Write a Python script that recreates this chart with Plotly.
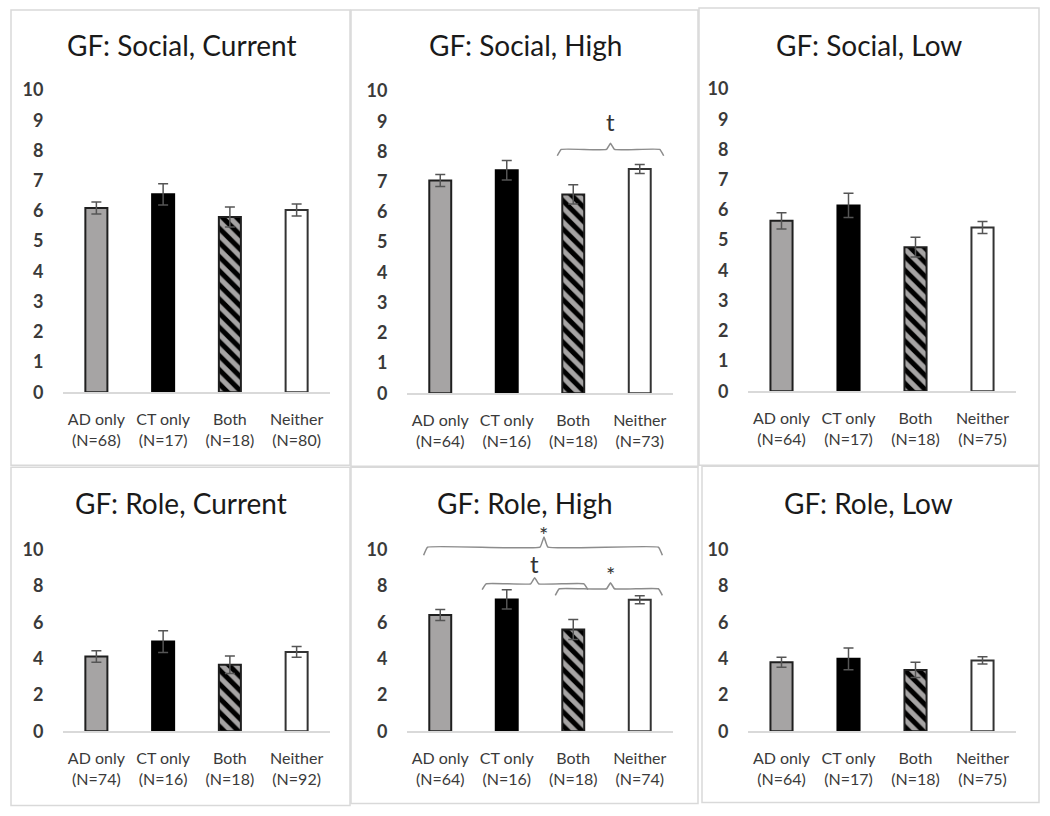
import plotly.graph_objects as go

# ---------------- data ----------------
categories = ["AD only", "CT only", "Both", "Neither"]
panel_titles = ["GF: Social, Current", "GF: Social, High", "GF: Social, Low",
                "GF: Role, Current", "GF: Role, High", "GF: Role, Low"]

social_current_n = [68, 17, 18, 80]
social_high_n = [64, 16, 18, 73]
social_low_n = [64, 17, 18, 75]
role_current_n = [74, 16, 18, 92]
role_high_n = [64, 16, 18, 74]
role_low_n = [64, 17, 18, 75]

social_current_mean = [6.10, 6.55, 5.80, 6.03]
social_current_se = [0.20, 0.35, 0.33, 0.20]
social_high_mean = [7.04, 7.38, 6.58, 7.42]
social_high_se = [0.20, 0.32, 0.32, 0.15]
social_low_mean = [5.64, 6.15, 4.77, 5.42]
social_low_se = [0.27, 0.40, 0.33, 0.20]
role_current_mean = [4.12, 4.94, 3.66, 4.37]
role_current_se = [0.32, 0.60, 0.48, 0.30]
role_high_mean = [6.40, 7.26, 5.60, 7.24]
role_high_se = [0.30, 0.53, 0.55, 0.22]
role_low_mean = [3.80, 3.99, 3.38, 3.90]
role_low_se = [0.28, 0.60, 0.42, 0.20]

y_ticks_social = [0, 1, 2, 3, 4, 5, 6, 7, 8, 9, 10]
y_ticks_role = [0, 2, 4, 6, 8, 10]

# significance brackets: panel index, x start, x end, x tip, line level, end level, tip level, label, label level
bracket_panel = [1, 4, 4, 4]
bracket_x0 = [1.76, -0.25, 0.63, 1.73]
bracket_x1 = [3.36, 3.34, 2.22, 3.34]
bracket_xtip = [2.56, 1.56, 1.42, 2.56]
bracket_level = [8.07, 10.14, 8.12, 7.85]
bracket_end = [7.86, 9.69, 7.80, 7.48]
bracket_tip = [8.27, 10.70, 8.46, 8.18]
bracket_label = ["t", "*", "t", "*"]
bracket_label_y = [8.98, 11.25, 9.24, 9.04]

means = [social_current_mean, social_high_mean, social_low_mean,
         role_current_mean, role_high_mean, role_low_mean]
ses = [social_current_se, social_high_se, social_low_se,
       role_current_se, role_high_se, role_low_se]
ns = [social_current_n, social_high_n, social_low_n,
      role_current_n, role_high_n, role_low_n]
yticks = [y_ticks_social] * 3 + [y_ticks_role] * 3

# ---------------- layout geometry (pixels of the 1050x816 page) ----------------
W, H = 1050, 816
VSCALE = 0.987               # observed vertical squeeze of the photographed page
YMAX = 12.0
# plot areas: x0, x1, y pixel of value 0, y pixel of value 10
plot_px = [
    (63, 330, 392, 90),
    (407, 673, 393, 91),
    (748, 1016, 391, 89),
    (63, 330, 730.7, 549.3),
    (407, 673, 730.7, 549.3),
    (748, 1016, 730.7, 549.3),
]
box_px = [
    (11, 10, 350, 465),
    (351, 10, 698, 466),
    (699, 8, 1039, 465),
    (11, 467, 350, 805),
    (351, 467, 698, 803),
    (702, 466, 1039, 802),
]
title_px = [(182, 45), (525, 45), (869, 45), (181, 503), (525, 503), (868, 503)]


def px_x(v):
    return v / W


def px_y(v):
    return 1 - (v / VSCALE) / H


bar_fill = ["#a6a4a4", "#000000", "#a6a4a4", "#ffffff"]
bar_line = ["#1f1f1f", "#000000", "#1f1f1f", "#333333"]

FONT = "Lato"
fig = go.Figure()

for i in range(6):
    sfx = "" if i == 0 else str(i + 1)
    xa, ya = "x" + sfx, "y" + sfx
    ticktext = [f"{c}<br>({'N=' + str(n)})" for c, n in zip(categories, ns[i])]
    for j in range(4):
        marker = dict(color=bar_fill[j], line=dict(color=bar_line[j], width=2))
        if j == 2:
            marker["pattern"] = dict(shape="\\", bgcolor="#a6a4a4", fgcolor="#000000",
                                     size=10, solidity=0.5, fillmode="replace")
        fig.add_trace(go.Bar(
            x=[j], y=[means[i][j]], width=0.33, marker=marker,
            error_y=dict(type="data", array=[ses[i][j]], color="#555555",
                         thickness=1.5, width=5),
            xaxis=xa, yaxis=ya, showlegend=False, hoverinfo="skip"))

    x0, x1, y0p, y10p = plot_px[i]
    ppu = (y0p - y10p) / 10.0
    ytop = y0p - YMAX * ppu
    fig.layout["xaxis" + sfx] = dict(
        domain=[px_x(x0), px_x(x1)], range=[-0.5, 3.5], anchor=ya,
        tickvals=[0, 1, 2, 3], ticktext=ticktext,
        showline=True, linecolor="#d9d9d9", linewidth=1.5,
        showgrid=False, zeroline=False, ticks="outside", ticklen=12,
        tickcolor="rgba(0,0,0,0)", fixedrange=True,
        tickfont=dict(family=FONT, size=16, color="#3a3a3a"))
    fig.layout["yaxis" + sfx] = dict(
        domain=[px_y(y0p), px_y(ytop)], range=[0, YMAX], anchor=xa,
        tickvals=yticks[i], showline=False, showgrid=False, zeroline=False,
        ticks="outside", ticklen=15, tickcolor="rgba(0,0,0,0)", fixedrange=True,
        tickfont=dict(family=FONT, size=18, color="#3a3a3a", weight="bold"))

    bx0, by0, bx1, by1 = box_px[i]
    fig.add_shape(type="rect", xref="paper", yref="paper",
                  x0=px_x(bx0), x1=px_x(bx1), y0=px_y(by1), y1=px_y(by0),
                  line=dict(color="#d9d9d9", width=1.5), fillcolor="rgba(0,0,0,0)",
                  layer="below")
    tx, ty = title_px[i]
    fig.add_annotation(text=panel_titles[i], xref="paper", yref="paper",
                       x=px_x(tx), y=px_y(ty), showarrow=False,
                       xanchor="center", yanchor="middle",
                       font=dict(family=FONT, size=28, color="#1a1a1a"))

# brackets
for k in range(len(bracket_panel)):
    p = bracket_panel[k]
    sfx = "" if p == 0 else str(p + 1)
    xa, ya = "x" + sfx, "y" + sfx
    a, b, t = bracket_x0[k], bracket_x1[k], bracket_xtip[k]
    lv, en, tp = bracket_level[k], bracket_end[k], bracket_tip[k]
    d = 0.06
    xs = [a, a + d, t - d, t, t + d, b - d, b]
    ys = [en, lv, lv, tp, lv, lv, en]
    fig.add_trace(go.Scatter(x=xs, y=ys, mode="lines", xaxis=xa, yaxis=ya,
                             line=dict(color="#8c8c8c", width=1.5, shape="spline", smoothing=0.3),
                             showlegend=False, hoverinfo="skip"))
    is_star = bracket_label[k] == "*"
    fig.add_annotation(text=bracket_label[k], x=t, y=bracket_label_y[k], xref=xa, yref=ya,
                       showarrow=False, yanchor="middle",
                       yshift=-7 if is_star else 0,
                       font=dict(family=FONT, size=22 if is_star else 24, color="#333333"))

fig.update_layout(width=W, height=H, margin=dict(l=0, r=0, t=0, b=0),
                  paper_bgcolor="white", plot_bgcolor="rgba(0,0,0,0)",
                  barmode="overlay", showlegend=False)

page_css = ("document.documentElement.style.margin='0';document.body.style.margin='0';"
            "document.documentElement.style.overflow='hidden';document.body.style.overflow='hidden';")
fig.write_html("out.html", post_script=page_css, config={"displayModeBar": False})
